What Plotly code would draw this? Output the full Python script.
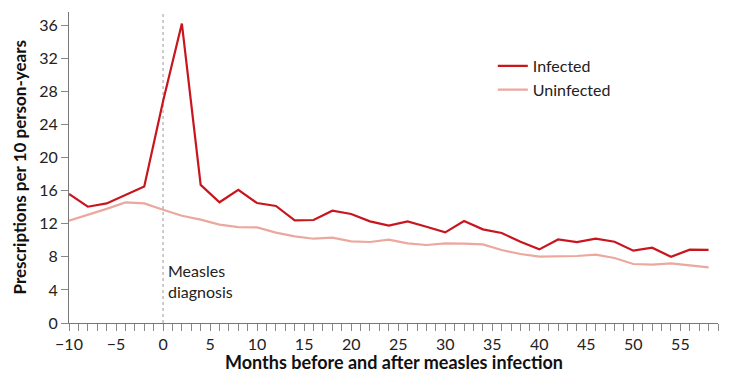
import plotly.graph_objects as go

months = list(range(-10, 60, 2))
infected = [15.6, 14.06, 14.46, 15.5, 16.5, 26.8, 36.2, 16.7, 14.6, 16.1, 14.5, 14.15,
            12.4, 12.45, 13.58, 13.18, 12.29, 11.77, 12.29, 11.64, 10.96, 12.33, 11.32,
            10.88, 9.83, 8.9, 10.1, 9.79, 10.19, 9.83, 8.74, 9.1, 8.0, 8.86, 8.83]
uninfected = [12.37, 13.06, 13.8, 14.58, 14.46, 13.7, 12.97, 12.49, 11.89, 11.6, 11.56,
              10.92, 10.47, 10.19, 10.31, 9.87, 9.79, 10.07, 9.63, 9.43, 9.63, 9.59, 9.51,
              8.83, 8.34, 8.02, 8.02, 8.1, 8.26, 7.86, 7.13, 7.05, 7.21, 6.97, 6.73]
y_ticks = [0, 4, 8, 12, 16, 20, 24, 28, 32, 36]
x_ticks = [-10, -5, 0, 5, 10, 15, 20, 25, 30, 35, 40, 45, 50, 55]
x_labels = [str(v).replace("-", "\u2212") for v in x_ticks]

FONT = "Lato"
fig = go.Figure()
fig.add_trace(go.Scatter(x=months, y=infected, mode="lines", name="Infected",
                         line=dict(color="#c8161e", width=2.2)))
fig.add_trace(go.Scatter(x=months, y=uninfected, mode="lines", name="Uninfected",
                         line=dict(color="#eba89f", width=2.2)))

fig.add_shape(type="line", x0=0, x1=0, y0=0, y1=1, xref="x", yref="y domain",
              line=dict(color="#999999", width=1, dash="dot"), layer="below")
fig.add_annotation(x=0.3, y=5.1, xref="x", yref="y", text="Measles<br>diagnosis",
                   showarrow=False, xanchor="left", yanchor="middle", align="left",
                   font=dict(family=FONT, size=16, color="#222222"))

fig.add_annotation(x=0, y=0.5, xref="paper", yref="paper", xshift=-50,
                   text="<b>Prescriptions per 10 person-years</b>", textangle=-90,
                   showarrow=False, xanchor="center", yanchor="middle",
                   font=dict(family=FONT, size=17, color="#111111"))
fig.add_annotation(x=0.5, y=0, xref="paper", yref="paper", yshift=-39,
                   text="<b>Months before and after measles infection</b>",
                   showarrow=False, xanchor="center", yanchor="middle",
                   font=dict(family=FONT, size=18, color="#111111"))

fig.update_layout(
    width=714, height=365,
    margin=dict(l=61, r=4, t=4, b=50),
    paper_bgcolor="white", plot_bgcolor="white",
    font=dict(family=FONT, size=16, color="#222222"),
    showlegend=True,
    legend=dict(x=0.653, y=0.881, xanchor="left", yanchor="top",
                font=dict(family=FONT, size=16, color="#222222"),
                bgcolor="rgba(0,0,0,0)", tracegroupgap=0),
    xaxis=dict(range=[-10, 59], tickvals=x_ticks, ticktext=x_labels, automargin=False,
               ticks="outside", ticklen=7, tickcolor="#888888", tickwidth=1,
               minor=dict(dtick=1, ticks="outside", ticklen=7, tickcolor="#888888", tickwidth=1, showgrid=False),
               showline=True, linecolor="#777777", linewidth=1, showgrid=False, zeroline=False,
               tickfont=dict(family=FONT, size=16, color="#222222")),
    yaxis=dict(range=[0, 37.6], tickvals=y_ticks, ticks="outside", ticklen=7, automargin=False,
               tickcolor="#888888", tickwidth=1,
               showline=True, linecolor="#777777", linewidth=1, showgrid=False, zeroline=False,
               tickfont=dict(family=FONT, size=16, color="#222222")),
)
fig.write_html("out.html")
